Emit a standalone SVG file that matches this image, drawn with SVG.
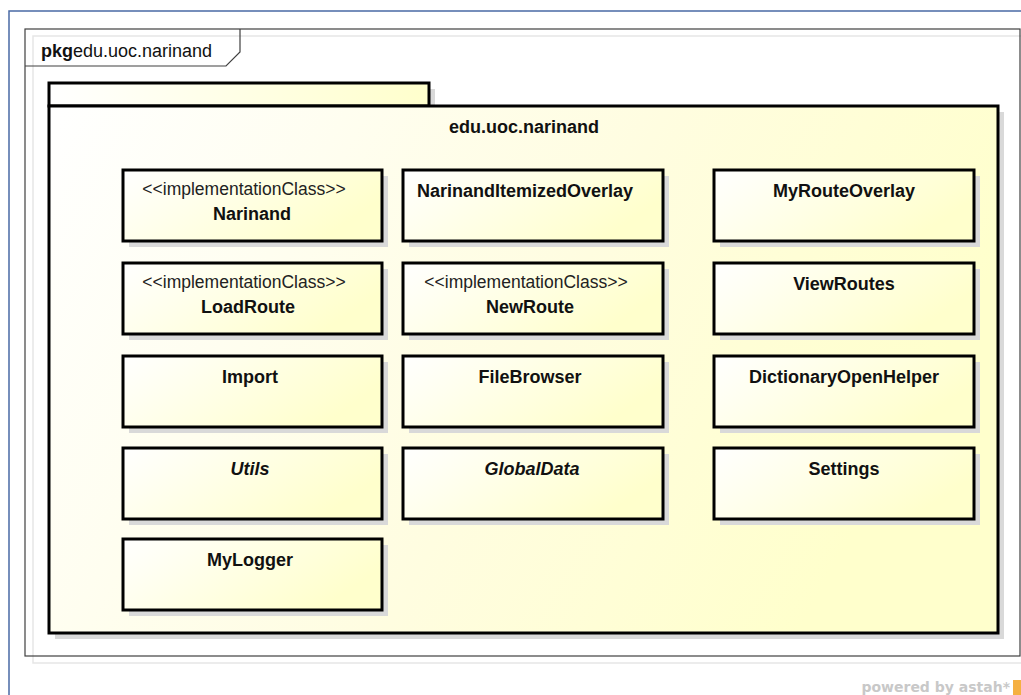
<svg xmlns="http://www.w3.org/2000/svg" width="1021" height="695" viewBox="0 0 1021 695">
<defs>
<linearGradient id="cg" x1="0" y1="0" x2="1" y2="0.4">
<stop offset="0" stop-color="#ffffff"/>
<stop offset="1" stop-color="#ffffcc"/>
</linearGradient>
<linearGradient id="pg" x1="0" y1="0" x2="1" y2="0.3">
<stop offset="0" stop-color="#ffffff"/>
<stop offset="0.6" stop-color="#fffde0"/>
<stop offset="1" stop-color="#ffffcc"/>
</linearGradient>
<linearGradient id="tg" x1="0" y1="0" x2="1" y2="0">
<stop offset="0" stop-color="#ffffff"/>
<stop offset="1" stop-color="#ffffcc"/>
</linearGradient>
</defs>
<style>
.sh{fill:#d9d9d9}
.cls{fill:url(#cg);stroke:#000;stroke-width:3}
.t{font-family:"Liberation Sans",Arial,sans-serif;font-size:18px;font-weight:bold;fill:#111;text-anchor:middle}
.ti{font-family:"Liberation Sans",Arial,sans-serif;font-size:18px;font-weight:bold;font-style:italic;fill:#111;text-anchor:middle}
.st{font-family:"Liberation Sans",Arial,sans-serif;font-size:17.5px;fill:#222;text-anchor:middle}
</style>
<rect width="1021" height="695" fill="#fff"/>
<!-- outer blue edge -->
<path d="M9 695 V11 H1021" fill="none" stroke="#4a6aa5" stroke-width="1.5"/>
<!-- frame -->
<rect x="33" y="36" width="995" height="627" fill="none" stroke="#e6e6e6" stroke-width="1.5"/>
<rect x="25" y="29" width="995" height="627" fill="none" stroke="#404040" stroke-width="1.2"/>
<path d="M25 66 H226 L240 52 V29" fill="none" stroke="#404040" stroke-width="1.2"/>
<text x="41" y="57" font-family="Liberation Sans,Arial,sans-serif" font-size="18" fill="#111"><tspan font-weight="bold">pkg</tspan>edu.uoc.narinand</text>
<!-- package -->
<g id="pkg">
<rect x="55" y="89" width="380" height="23" class="sh"/>
<rect x="55" y="112" width="949" height="527" class="sh"/>
<rect x="49" y="83" width="380" height="23" fill="url(#tg)" stroke="#000" stroke-width="3"/>
<rect x="49" y="106" width="949" height="527" fill="url(#pg)" stroke="#000" stroke-width="3"/>
<text x="524" y="133" class="t">edu.uoc.narinand</text>
</g>
<g id="Narinand"><rect x="129" y="176" width="259" height="71" class="sh"/><rect x="123" y="170" width="259" height="71" class="cls"/><text x="244" y="195" class="st">&lt;&lt;implementationClass&gt;&gt;</text><text x="252" y="220" class="t">Narinand</text></g>
<g id="NarinandItemizedOverlay"><rect x="409" y="176" width="260" height="71" class="sh"/><rect x="403" y="170" width="260" height="71" class="cls"/><text x="525" y="197" class="t">NarinandItemizedOverlay</text></g>
<g id="MyRouteOverlay"><rect x="720" y="176" width="260" height="71" class="sh"/><rect x="714" y="170" width="260" height="71" class="cls"/><text x="844" y="197" class="t">MyRouteOverlay</text></g>
<g id="LoadRoute"><rect x="129" y="269" width="259" height="71" class="sh"/><rect x="123" y="263" width="259" height="71" class="cls"/><text x="244" y="288" class="st">&lt;&lt;implementationClass&gt;&gt;</text><text x="248" y="313" class="t">LoadRoute</text></g>
<g id="NewRoute"><rect x="409" y="269" width="260" height="71" class="sh"/><rect x="403" y="263" width="260" height="71" class="cls"/><text x="526" y="288" class="st">&lt;&lt;implementationClass&gt;&gt;</text><text x="530" y="313" class="t">NewRoute</text></g>
<g id="ViewRoutes"><rect x="720" y="269" width="260" height="71" class="sh"/><rect x="714" y="263" width="260" height="71" class="cls"/><text x="844" y="290" class="t">ViewRoutes</text></g>
<g id="Import"><rect x="129" y="362" width="259" height="71" class="sh"/><rect x="123" y="356" width="259" height="71" class="cls"/><text x="250" y="383" class="t">Import</text></g>
<g id="FileBrowser"><rect x="409" y="362" width="260" height="71" class="sh"/><rect x="403" y="356" width="260" height="71" class="cls"/><text x="530" y="383" class="t">FileBrowser</text></g>
<g id="DictionaryOpenHelper"><rect x="720" y="362" width="260" height="71" class="sh"/><rect x="714" y="356" width="260" height="71" class="cls"/><text x="844" y="383" class="t">DictionaryOpenHelper</text></g>
<g id="Utils"><rect x="129" y="454" width="259" height="71" class="sh"/><rect x="123" y="448" width="259" height="71" class="cls"/><text x="250" y="475" class="ti">Utils</text></g>
<g id="GlobalData"><rect x="409" y="454" width="260" height="71" class="sh"/><rect x="403" y="448" width="260" height="71" class="cls"/><text x="532" y="475" class="ti">GlobalData</text></g>
<g id="Settings"><rect x="720" y="454" width="260" height="71" class="sh"/><rect x="714" y="448" width="260" height="71" class="cls"/><text x="844" y="475" class="t">Settings</text></g>
<g id="MyLogger"><rect x="129" y="545" width="259" height="71" class="sh"/><rect x="123" y="539" width="259" height="71" class="cls"/><text x="250" y="566" class="t">MyLogger</text></g>
<g id="connectors"></g>
<text x="1010" y="692" text-anchor="end" font-family="Verdana,'DejaVu Sans',sans-serif" font-size="14" font-weight="bold" fill="#c8c8c8">powered by astah*</text>
<rect x="1013" y="680" width="8" height="15" fill="#f5b041"/>
</svg>
